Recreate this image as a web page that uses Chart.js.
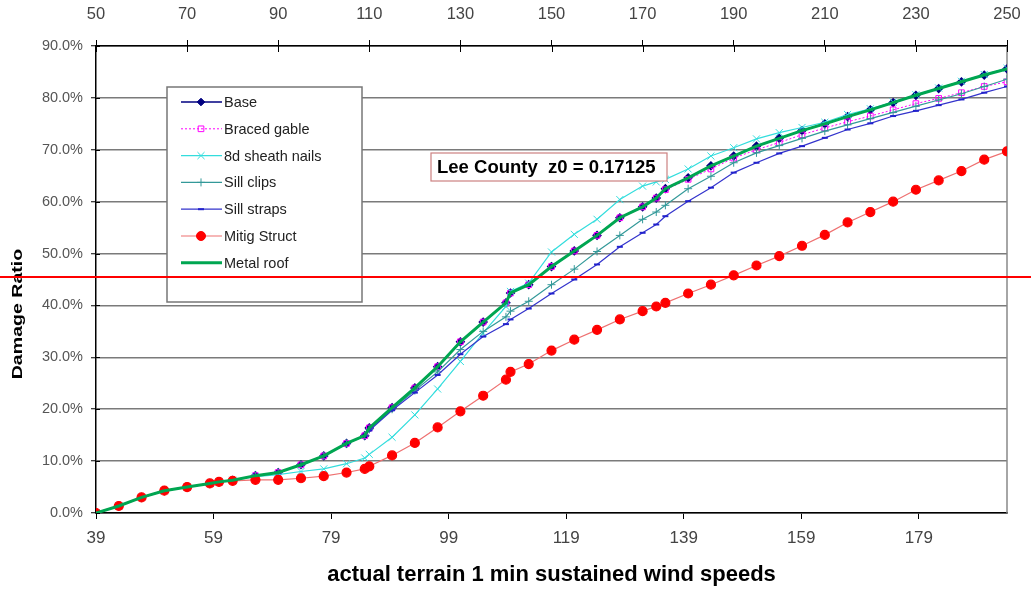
<!DOCTYPE html>
<html>
<head>
<meta charset="utf-8">
<script src="https://cdn.jsdelivr.net/npm/chart.js@4.4.1/dist/chart.umd.min.js"></script>
<style>
  html, body { margin: 0; padding: 0; background: #fff; }
  #wrap { width: 1031px; height: 590px; }
</style>
</head>
<body>
<div id="wrap"><canvas id="c" width="1031" height="590"></canvas></div>
<script>
// gust speeds (top axis) at which the curves were sampled
const speeds = [50, 55, 60, 65, 70, 75, 77, 80, 85, 90, 95, 100, 105, 109, 110, 115, 120, 125, 130, 135, 140, 141, 145, 150, 155, 160, 165, 170, 173, 175, 180, 185, 190, 195, 200, 205, 210, 215, 220, 225, 230, 235, 240, 245, 250];

const base = [0, 1.35, 3.0, 4.3, 5.0, 5.7, 6.0, 6.3, 7.2, 7.8, 9.3, 11.0, 13.4, 14.9, 16.4, 20.3, 24.1, 28.2, 33.0, 36.8, 40.5, 42.4, 44.0, 47.5, 50.5, 53.5, 56.9, 59.0, 60.7, 62.5, 64.6, 66.9, 68.8, 70.7, 72.2, 73.7, 75.0, 76.4, 77.7, 79.1, 80.5, 81.8, 83.1, 84.4, 85.6];
const bracedGable = [0, 1.35, 3.0, 4.3, 5.0, 5.7, 6.0, 6.3, 7.2, 7.8, 9.3, 11.0, 13.4, 14.9, 16.4, 20.3, 24.1, 28.2, 33.0, 36.8, 40.5, 42.4, 44.0, 47.5, 50.5, 53.5, 56.9, 59.0, 60.7, 62.3, 64.3, 66.3, 68.4, 70.0, 71.4, 72.9, 74.2, 75.4, 76.5, 77.7, 78.9, 79.9, 81.0, 82.2, 83.1];
const sheathNails = [0, 1.35, 3.0, 4.3, 5.0, 5.7, 6.0, 6.3, 7.0, 7.4, 8.0, 8.5, 9.5, 10.6, 11.3, 14.6, 18.9, 23.9, 29.2, 34.7, 39.8, 42.7, 44.3, 50.3, 53.7, 56.6, 60.4, 63.0, 63.8, 64.3, 66.3, 68.8, 70.4, 72.1, 73.3, 74.3, 75.3, 76.8, 77.9, 79.2, 80.6, 81.9, 83.2, 84.5, 85.7];
const sillClips = [0, 1.35, 3.0, 4.3, 5.0, 5.7, 6.0, 6.3, 7.2, 7.8, 9.3, 11.0, 13.4, 14.9, 16.1, 20.0, 23.6, 27.2, 31.5, 35.0, 37.8, 38.9, 40.8, 44.0, 47.0, 50.4, 53.5, 56.6, 58.0, 59.3, 62.5, 64.9, 67.5, 69.4, 70.8, 72.2, 73.6, 74.8, 76.0, 77.2, 78.4, 79.6, 80.8, 82.2, 83.6];
const sillStraps = [0, 1.35, 3.0, 4.3, 5.0, 5.7, 6.0, 6.3, 7.2, 7.8, 9.3, 11.0, 13.4, 14.9, 15.9, 19.8, 23.2, 26.6, 30.6, 34.0, 36.4, 37.3, 39.4, 42.3, 45.0, 47.9, 51.3, 54.0, 55.6, 57.2, 60.1, 62.7, 65.6, 67.5, 69.3, 70.7, 72.3, 73.9, 75.1, 76.5, 77.5, 78.6, 79.7, 81.0, 82.2];
const mitigStruct = [0, 1.35, 3.0, 4.3, 5.0, 5.7, 6.0, 6.2, 6.4, 6.4, 6.7, 7.1, 7.8, 8.5, 9.0, 11.1, 13.5, 16.5, 19.6, 22.6, 25.7, 27.2, 28.7, 31.3, 33.4, 35.3, 37.3, 38.9, 39.8, 40.5, 42.3, 44.0, 45.8, 47.7, 49.5, 51.5, 53.6, 56.0, 58.0, 60.0, 62.3, 64.1, 65.9, 68.1, 69.7];
const metalRoof = [0, 1.35, 3.0, 4.3, 5.0, 5.7, 6.0, 6.3, 7.2, 7.8, 9.3, 11.0, 13.4, 14.9, 16.4, 20.3, 24.1, 28.2, 33.0, 36.8, 40.5, 42.4, 44.0, 47.5, 50.5, 53.5, 56.9, 59.0, 60.7, 62.5, 64.6, 66.9, 68.8, 70.7, 72.2, 73.7, 75.0, 76.4, 77.7, 79.1, 80.5, 81.8, 83.1, 84.4, 85.6];

const topTicks = [50, 70, 90, 110, 130, 150, 170, 190, 210, 230, 250];
const bottomTicks = [39, 59, 79, 99, 119, 139, 159, 179];
const bottomRange = [39, 194];
const yTicks = [0, 10, 20, 30, 40, 50, 60, 70, 80, 90];
const noteText = 'Lee County  z0 = 0.17125';
const redLineAt = 45.5;

const FONT = "'Liberation Sans', Arial, sans-serif";
const NARROW = "'Liberation Sans Narrow', 'Liberation Sans', Arial, sans-serif";
Chart.defaults.font.family = FONT;

const pts = (vals) => vals.map((v, i) => ({ x: speeds[i], y: v }));

const datasets = [
  { label: 'Base', data: pts(base), borderColor: '#000080', borderWidth: 1.5,
    pointStyle: 'rectRot', pointRadius: 3.8, pointBackgroundColor: '#000080', pointBorderColor: '#000080', order: 7 },
  { label: 'Braced gable', data: pts(bracedGable), borderColor: '#ff00ff', borderWidth: 1, borderDash: [2, 2],
    pointStyle: 'rect', pointRadius: 4, pointBackgroundColor: 'rgba(255,255,255,0)', pointBorderColor: '#ff00ff', pointBorderWidth: 1, order: 6 },
  { label: '8d sheath nails', data: pts(sheathNails), borderColor: '#33dddd', borderWidth: 1.2,
    pointStyle: 'crossRot', pointRadius: 5, pointBorderColor: '#33dddd', pointBorderWidth: 1, order: 5 },
  { label: 'Sill clips', data: pts(sillClips), borderColor: '#339999', borderWidth: 1.2,
    pointStyle: 'cross', pointRadius: 4, pointBorderColor: '#339999', pointBorderWidth: 1, order: 4 },
  { label: 'Sill straps', data: pts(sillStraps), borderColor: '#3333cc', borderWidth: 1.2,
    pointStyle: 'line', pointRadius: 3, pointBorderColor: '#2222cc', pointBorderWidth: 2, order: 3 },
  { label: 'Mitig Struct', data: pts(mitigStruct), borderColor: '#ee7070', borderWidth: 1.2,
    pointStyle: 'circle', pointRadius: 4.5, pointBackgroundColor: '#ff0000', pointBorderColor: '#ff0000', order: 2 },
  { label: 'Metal roof', data: pts(metalRoof), borderColor: '#00a651', borderWidth: 3,
    pointRadius: 0, order: 1 },
];
datasets.forEach((d) => { d.tension = 0; d.fill = false; d.xAxisID = 'x'; d.yAxisID = 'y'; });

// legend box, note box, right border, inner tick marks, red marker line, y title
const decorations = {
  id: 'decorations',
  beforeDatasetsDraw(chart) {
    const { ctx, chartArea: a, scales } = chart;
    ctx.save();
    ctx.strokeStyle = '#888';
    ctx.lineWidth = 1.5;
    ctx.beginPath();
    ctx.moveTo(a.right, a.top);
    ctx.lineTo(a.right, a.bottom);
    ctx.stroke();
    // tick marks reaching into the plot (cross style)
    ctx.strokeStyle = '#000';
    ctx.lineWidth = 1;
    ctx.beginPath();
    topTicks.forEach((v) => {
      const x = Math.round(scales.x.getPixelForValue(v)) + 0.5;
      ctx.moveTo(x, a.top);
      ctx.lineTo(x, a.top + 6);
    });
    yTicks.forEach((v) => {
      const y = Math.round(scales.y.getPixelForValue(v)) + 0.5;
      ctx.moveTo(a.left, y);
      ctx.lineTo(a.left + 4, y);
    });
    ctx.stroke();
    ctx.restore();
  },
  afterDraw(chart) {
    const { ctx, chartArea: a, scales } = chart;
    ctx.save();

    // legend
    const lx = a.left + 71, ly = a.top + 41, lw = 195, lh = 215;
    ctx.fillStyle = '#fff';
    ctx.fillRect(lx, ly, lw, lh);
    ctx.strokeStyle = '#777';
    ctx.lineWidth = 1.5;
    ctx.strokeRect(lx, ly, lw, lh);
    ctx.font = '14.5px ' + FONT;
    ctx.textBaseline = 'middle';
    chart.data.datasets.forEach((d, i) => {
      const y = ly + 15 + i * 26.8;
      ctx.save();
      ctx.strokeStyle = d.borderColor;
      ctx.lineWidth = d.borderWidth;
      ctx.setLineDash(d.borderDash || []);
      ctx.beginPath();
      ctx.moveTo(lx + 14, y);
      ctx.lineTo(lx + 55, y);
      ctx.stroke();
      ctx.restore();
      if (d.pointRadius > 0) {
        ctx.save();
        ctx.fillStyle = d.pointBackgroundColor || d.borderColor;
        ctx.strokeStyle = d.pointBorderColor || d.borderColor;
        ctx.lineWidth = d.pointBorderWidth || 1;
        Chart.helpers.drawPoint(ctx, {
          pointStyle: d.pointStyle, radius: d.pointRadius, rotation: 0,
          borderWidth: d.pointBorderWidth || 1,
        }, lx + 34, y);
        ctx.restore();
      }
      ctx.fillStyle = '#222';
      ctx.fillText(d.label, lx + 57, y + 1);
    });

    // note box
    const nx = a.left + 335, ny = a.top + 107, nw = 236, nh = 28;
    ctx.fillStyle = '#fff';
    ctx.fillRect(nx, ny, nw, nh);
    ctx.strokeStyle = '#cc8080';
    ctx.lineWidth = 1.2;
    ctx.strokeRect(nx, ny, nw, nh);
    ctx.fillStyle = '#000';
    ctx.font = 'bold 18.5px ' + FONT;
    ctx.fillText(noteText, nx + 6, ny + nh / 2 + 1);

    // y axis title (stretched along its length like the source)
    ctx.save();
    ctx.translate(18, a.top + 268);
    ctx.rotate(-Math.PI / 2);
    ctx.scale(1.35, 1);
    ctx.textAlign = 'center';
    ctx.font = 'bold 14.5px ' + FONT;
    ctx.fillStyle = '#000';
    ctx.fillText('Damage Ratio', 0, 0);
    ctx.restore();

    // red marker line across the picture
    const ry = scales.y.getPixelForValue(redLineAt);
    ctx.strokeStyle = '#ff0000';
    ctx.lineWidth = 2;
    ctx.beginPath();
    ctx.moveTo(0, ry);
    ctx.lineTo(chart.width, ry);
    ctx.stroke();
    ctx.restore();
  },
};

const noSidePad = (s, h) => { s.height = h; s.paddingLeft = 0; s.paddingRight = 0; };

new Chart(document.getElementById('c'), {
  type: 'line',
  data: { datasets },
  plugins: [decorations],
  options: {
    responsive: false,
    animation: false,
    layout: { padding: { left: 0, right: 24, top: 0, bottom: 0 } },
    plugins: { legend: { display: false }, tooltip: { enabled: false } },
    scales: {
      x: {
        type: 'linear', position: 'top', min: 50, max: 250,
        afterBuildTicks: (s) => { s.ticks = topTicks.map((v) => ({ value: v })); },
        afterFit: (s) => noSidePad(s, 46),
        border: { color: '#000', width: 1.5 },
        grid: { drawOnChartArea: false, tickLength: 6, color: '#000', lineWidth: 1 },
        ticks: { color: '#444', padding: 16, maxRotation: 0, font: { size: 16.5, family: FONT } },
      },
      x2: {
        type: 'linear', position: 'bottom', min: bottomRange[0], max: bottomRange[1],
        afterBuildTicks: (s) => { s.ticks = bottomTicks.map((v) => ({ value: v })); },
        afterFit: (s) => noSidePad(s, 77),
        border: { color: '#000', width: 1.5 },
        grid: { drawOnChartArea: false, tickLength: 6, color: '#000', lineWidth: 1 },
        ticks: { color: '#444', padding: 9, maxRotation: 0, font: { size: 17, family: NARROW } },
        title: { display: true, text: 'actual terrain 1 min sustained wind speeds', color: '#000',
          font: { size: 22, weight: 'bold', family: NARROW }, padding: { top: 0, bottom: 2 } },
      },
      y: {
        type: 'linear', position: 'left', min: 0, max: 90,
        afterBuildTicks: (s) => { s.ticks = yTicks.map((v) => ({ value: v })); },
        afterFit: (s) => { s.width = 96; s.paddingTop = 0; s.paddingBottom = 0; },
        border: { color: '#000', width: 1.5 },
        grid: { color: '#7a7a7a', lineWidth: 1.5, tickLength: 5, tickColor: '#000', tickWidth: 1 },
        ticks: { color: '#555', padding: 8, font: { size: 14.5, family: FONT },
          callback: (v) => v.toFixed(1) + '%' },
      },
    },
  },
});
</script>
</body>
</html>
